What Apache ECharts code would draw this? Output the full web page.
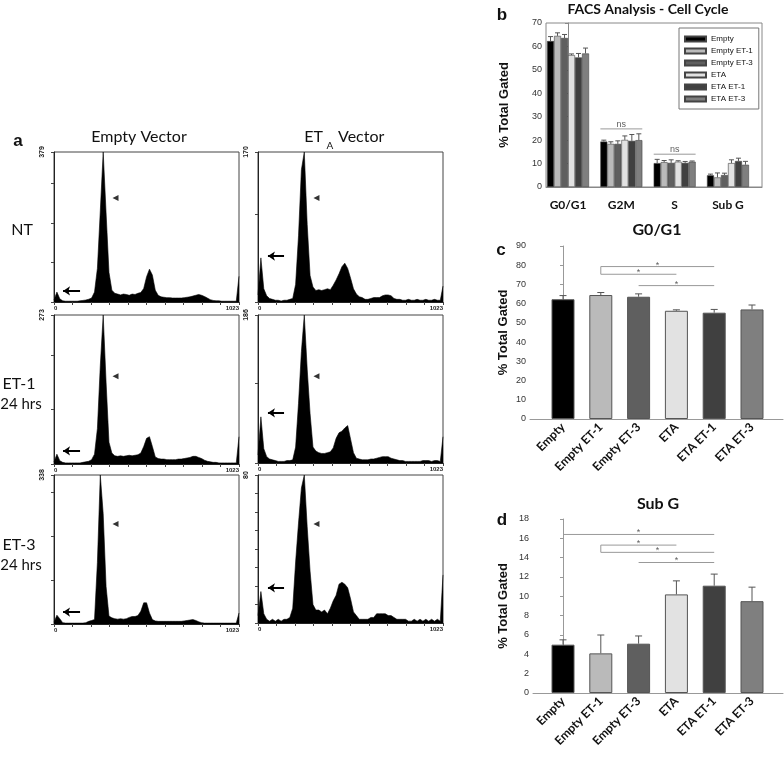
<!DOCTYPE html>
<html><head><meta charset="utf-8">
<script src="https://cdn.jsdelivr.net/npm/echarts@6/dist/echarts.min.js"></script>
<style>html,body{margin:0;padding:0;background:#fff}#c{width:784px;height:758px}</style>
</head><body><div id="c"></div>
<script>
// ---------- DATA ----------
const channels = [0,16,32,48,64,80,96,112,128,144,160,176,192,208,224,240,256,272,288,304,320,336,352,368,384,400,416,432,448,464,480,496,512,528,544,560,576,592,608,624,640,656,672,688,704,720,736,752,768,784,800,816,832,848,864,880,896,912,928,944,960,976,992,1008,1023];
const histEmptyNT  = [5,25,8,3,2,2,2,2,2,3, 4,5,7,10,25,85,230,379,225,75, 30,22,20,18,20,19,17,20,19,22, 24,34,64,83,68,30,17,13,12,11, 11,10,10,10,10,11,12,13,15,17, 19,17,14,10,6,4,3,3,2,2, 2,2,2,2,65];
const histEtaNT    = [8,50,15,7,4,3,2,2,1,2, 2,3,4,20,75,150,170,88,30,17, 13,14,13,14,15,14,19,25,32,40, 44,38,27,15,9,6,5,3,3,4, 5,5,5,7,8,8,7,4,3,3, 2,2,3,2,2,3,2,2,3,2, 2,3,2,2,18];
const histEmptyET1 = [4,18,6,3,2,2,2,2,2,2, 3,4,5,8,18,65,180,273,150,40, 20,15,14,15,14,15,16,15,16,17, 20,32,47,50,32,13,10,9,9,8, 8,8,8,9,9,10,11,12,14,14, 12,10,7,5,4,3,3,2,2,2, 2,2,2,2,50];
const histEtaET1   = [10,58,18,8,5,4,3,2,2,2, 3,3,4,20,75,140,186,118,62,20, 15,13,12,12,13,14,19,31,38,40, 44,47,30,13,6,5,4,4,4,5, 5,6,7,8,8,8,6,5,4,3, 3,2,2,2,2,2,2,3,3,3, 2,3,3,2,33];
const histEmptyET3 = [4,20,12,3,2,2,2,2,2,2, 2,3,6,8,10,140,338,250,85,18, 14,12,11,12,11,12,15,17,17,19, 29,48,48,25,10,7,6,6,6,6, 6,6,6,6,6,7,8,9,10,8, 5,3,2,2,2,2,2,2,2,2, 2,2,2,2,25];
const histEtaET3   = [4,17,5,2,1,2,1,2,1,2, 2,3,8,33,54,73,80,52,28,10, 7,7,6,7,5,8,12,15,21,22, 21,19,13,6,4,2,2,2,2,3, 3,5,5,5,5,4,4,3,2,2, 2,2,1,1,2,1,2,1,2,1, 2,1,2,1,26];
const histMaxLabels = [379,170,273,186,338,80];
const histTickStep  = [100,100,100,100,100,10];
const arrowCounts   = [28,52,24,63,27,19];
const arrowFrom     = [50,55,50,55,50,55];
const arrowTo       = [144,144,144,144,144,144];
const markerChannel = [340,323,340,323,340,323];
const markerCount   = [263,118,161,109,227,53.5];

const groups = ['Empty','Empty ET-1','Empty ET-3','ETA','ETA ET-1','ETA ET-3'];
const phases = ['G0/G1','G2M','S','Sub G'];
const g0g1Mean  = [62.3,64.5,63.6,56.3,55.3,57.0];
const g0g1Upper = [64.2,65.8,65.1,56.8,57.0,59.3];
const g2mMean   = [19.4,18.4,18.4,20.1,19.7,20.0];
const g2mUpper  = [20.0,19.3,19.7,21.8,22.4,22.7];
const sMean     = [10.2,10.6,10.3,10.8,10.3,10.8];
const sUpper    = [11.8,11.3,11.6,11.2,10.9,11.1];
const subGMean  = [5.0,4.1,5.1,10.2,11.1,9.5];
const subGUpper = [5.5,6.0,5.9,11.6,12.3,10.95];

const nsLines  = [[[0.607,24.8],[1.393,24.8]],[[1.607,14],[2.393,14]]];
const nsLabels = [[1,24.8],[2,14]];
const sigLinesC = [[[1,79.3],[4,79.3]],[[1,79.3],[1,75.3],[3,75.3]],[[2,69.4],[4,69.4]]];
const sigStarsC = [[2.5,79.3],[2,75.3],[3,69.4]];
const sigLinesD = [[[0,16.4],[4,16.4]],[[3,15.3],[1,15.3],[1,14.55],[4,14.55]],[[2,13.5],[4,13.5]]];
const sigStarsD = [[2,16.4],[2,15.3],[2.5,14.55],[3,13.5]];

// ---------- STYLE ----------
const palette = ['#000000','#bababa','#5f5f5f','#e2e2e2','#404040','#7f7f7f'];
const FC = 'Lato, "Open Sans", sans-serif';
const FA = '"Liberation Sans", Arial, sans-serif';
const histLayout = [[54,152,185,150],[258,152,185,150],[54,315,185,149],[258,315,185,148],[54,475,185,149],[258,475,185,148]];
const hists = [histEmptyNT, histEtaNT, histEmptyET1, histEtaET1, histEmptyET3, histEtaET3];

const option = {animation:false, grid:[], xAxis:[], yAxis:[], series:[]};

hists.forEach((h,k)=>{
  const L = histLayout[k];
  option.grid.push({left:L[0], top:L[1], width:L[2], height:L[3], show:true, borderColor:'#444', borderWidth:1});
  option.xAxis.push({gridIndex:k, type:'value', min:0, max:1023, interval:102.3,
    axisLine:{lineStyle:{color:'#222'}}, axisTick:{length:3, lineStyle:{color:'#444'}},
    axisLabel:{customValues:[0,1023], formatter:v=>String(Math.round(v)), fontSize:6, fontWeight:'bold', fontFamily:FA, color:'#222', margin:3, alignMinLabel:'left', alignMaxLabel:'right'},
    splitLine:{show:false}});
  option.yAxis.push({gridIndex:k, type:'value', min:0, max:histMaxLabels[k], interval:histTickStep[k],
    axisLine:{show:true, lineStyle:{color:'#222'}}, axisTick:{show:true, length:3, lineStyle:{color:'#444'}},
    axisLabel:{customValues:[histMaxLabels[k]], formatter:v=>String(Math.round(v)), rotate:90, fontSize:7, fontWeight:'bold', fontFamily:FA, color:'#222', margin:8},
    splitLine:{show:false}});
  option.series.push({type:'line', xAxisIndex:k, yAxisIndex:k, symbol:'none', silent:true,
    data: channels.map((c,i)=>[c, h[i]]),
    lineStyle:{color:'#000', width:0.6}, areaStyle:{color:'#000', opacity:1}});
  option.series.push({type:'scatter', xAxisIndex:k, yAxisIndex:k, symbol:'triangle', symbolSize:[6,6], symbolRotate:90,
    itemStyle:{color:'#000'}, data:[[markerChannel[k], markerCount[k]]]});
  option.series.push({type:'lines', coordinateSystem:'cartesian2d', xAxisIndex:k, yAxisIndex:k,
    symbol:['arrow','none'], symbolSize:7, lineStyle:{color:'#000', width:2, opacity:1},
    data:[{coords:[[arrowFrom[k], arrowCounts[k]],[arrowTo[k], arrowCounts[k]]]}]});
});

// ---------- panel b ----------
const phaseMeans = [g0g1Mean, g2mMean, sMean, subGMean];
const phaseUppers = [g0g1Upper, g2mUpper, sUpper, subGUpper];
const B = 6, C = 7, D = 8;
option.grid.push({left:546, top:23, width:216, height:164, show:true, borderColor:'#888', borderWidth:1});
option.xAxis.push({gridIndex:B, type:'value', min:-0.413, max:3.638,
  axisLine:{lineStyle:{color:'#888'}}, axisTick:{show:false}, splitLine:{show:false},
  axisLabel:{customValues:[0,1,2,3], formatter:v=>phases[Math.round(v)], fontFamily:FC, fontWeight:'bold', fontSize:12, color:'#111', margin:12}});
option.yAxis.push({gridIndex:B, type:'value', min:0, max:70, interval:10,
  axisLine:{show:true, lineStyle:{color:'#888'}}, axisTick:{show:true, length:3, lineStyle:{color:'#888'}},
  axisLabel:{fontSize:9, color:'#333', fontFamily:FA, margin:4}, splitLine:{show:false},
  name:'% Total Gated', nameLocation:'middle', nameGap:35, nameTextStyle:{fontWeight:'bold', fontSize:13, fontFamily:FA, color:'#111'}});
groups.forEach((g,gi)=>{
  option.series.push({type:'bar', name:g, xAxisIndex:B, yAxisIndex:B, barWidth:7, barGap:'0%',
    itemStyle:{color:palette[gi], borderColor:'#444', borderWidth:0.6},
    data: phases.map((p,pi)=>[pi, phaseMeans[pi][gi]])});
});
const errB = [];
phases.forEach((p,pi)=>groups.forEach((g,gi)=>errB.push([pi, gi, phaseMeans[pi][gi], phaseUppers[pi][gi]])));
option.series.push({type:'custom', xAxisIndex:B, yAxisIndex:B, encode:{x:0, y:[2,3]}, data:errB, z:5,
  renderItem:(params, api)=>{
    const a = api.coord([api.value(0), api.value(2)]);
    const b = api.coord([api.value(0), api.value(3)]);
    const x = a[0] + (api.value(1) - 2.5) * 7;
    const st = {stroke:'#555', lineWidth:1};
    return {type:'group', children:[
      {type:'line', shape:{x1:x, y1:a[1], x2:x, y2:b[1]}, style:st},
      {type:'line', shape:{x1:x-2.5, y1:b[1], x2:x+2.5, y2:b[1]}, style:st}]};
  }});
option.series.push({type:'lines', coordinateSystem:'cartesian2d', xAxisIndex:B, yAxisIndex:B, polyline:true,
  lineStyle:{color:'#999', width:1, opacity:1}, data: nsLines.map(c=>({coords:c}))});
option.series.push({type:'scatter', xAxisIndex:B, yAxisIndex:B, symbolSize:0, data:nsLabels,
  label:{show:true, formatter:'ns', position:'top', distance:0, fontSize:9, fontFamily:FA, color:'#333'}});
option.legend = {show:true, data:groups, orient:'vertical', left:679, top:28, itemWidth:21, itemHeight:5, itemGap:2,
  padding:[6,6,5,5], borderColor:'#777', borderWidth:1, selectedMode:false, icon:'rect',
  textStyle:{fontSize:8, fontFamily:FA, color:'#111', lineHeight:10, padding:[0,0,0,0]}};

// ---------- panels c and d ----------
function singlePanel(idx, gridCfg, xmin, ymax, yint, means, uppers, lines, stars, nameGap){
  option.grid.push(gridCfg);
  option.xAxis.push({gridIndex:idx, type:'value', min:xmin, max:5.82,
    axisLine:{lineStyle:{color:'#999'}}, axisTick:{show:false}, splitLine:{show:false},
    axisLabel:{customValues:[0,1,2,3,4,5], formatter:v=>groups[Math.round(v)], rotate:45, fontFamily:FC, fontWeight:'bold', fontSize:12, color:'#111', margin:6}});
  option.yAxis.push({gridIndex:idx, type:'value', min:0, max:ymax, interval:yint,
    axisLine:{show:true, lineStyle:{color:'#999'}}, axisTick:{show:true, length:3, lineStyle:{color:'#999'}},
    axisLabel:{fontSize:9, color:'#333', fontFamily:FA, margin:4}, splitLine:{show:false},
    name:'% Total Gated', nameLocation:'middle', nameGap:nameGap, nameTextStyle:{fontWeight:'bold', fontSize:13, fontFamily:FA, color:'#111'}});
  option.series.push({type:'bar', xAxisIndex:idx, yAxisIndex:idx, barWidth:23,
    data: means.map((v,i)=>({value:[i,v], itemStyle:{color:palette[i], borderColor:'#555', borderWidth:1}}))});
  option.series.push({type:'custom', xAxisIndex:idx, yAxisIndex:idx, encode:{x:0, y:[1,2]}, z:5,
    data: means.map((v,i)=>[i, v, uppers[i]]),
    renderItem:(params, api)=>{
      const a = api.coord([api.value(0), api.value(1)]);
      const b = api.coord([api.value(0), api.value(2)]);
      const st = {stroke:'#555', lineWidth:1};
      return {type:'group', children:[
        {type:'line', shape:{x1:a[0], y1:a[1], x2:a[0], y2:b[1]}, style:st},
        {type:'line', shape:{x1:a[0]-3.5, y1:b[1], x2:a[0]+3.5, y2:b[1]}, style:st}]};
    }});
  option.series.push({type:'lines', coordinateSystem:'cartesian2d', xAxisIndex:idx, yAxisIndex:idx, polyline:true,
    lineStyle:{color:'#999', width:1, opacity:1}, data: lines.map(c=>({coords:c}))});
  option.series.push({type:'scatter', xAxisIndex:idx, yAxisIndex:idx, symbolSize:0, data:stars,
    label:{show:true, formatter:'*', position:'top', distance:-3, fontSize:9, fontFamily:FA, color:'#333'}});
}
singlePanel(C, {left:530, top:246, width:253, height:173}, -0.873, 90, 10, g0g1Mean, g0g1Upper, sigLinesC, sigStarsC, 20);
singlePanel(D, {left:533, top:519, width:250, height:174}, -0.794, 18, 2, subGMean, subGUpper, sigLinesD, sigStarsD, 23);

// ---------- static text ----------
function txt(x, y, text, font, align){
  return {type:'text', x:x, y:y, silent:true, style:{text:text, font:font, fill:'#111', align:align||'center', verticalAlign:'middle'}};
}
option.graphic = [
  txt(18, 141, 'a', 'bold 17px '+FA),
  txt(139, 137, 'Empty Vector', '16px '+FC),
  txt(323, 137, 'ET', '16px '+FC, 'right'),
  txt(330, 146, 'A', '10px '+FC),
  txt(338, 137, 'Vector', '16px '+FC, 'left'),
  txt(22, 230, 'NT', '16px '+FC),
  txt(19, 384, 'ET-1', '16px '+FC),
  txt(21, 404, '24 hrs', '15px '+FC),
  txt(19, 545, 'ET-3', '16px '+FC),
  txt(21, 565, '24 hrs', '15px '+FC),
  txt(502, 15, 'b', 'bold 17px '+FA),
  txt(648, 9, 'FACS Analysis - Cell Cycle', 'bold 14px '+FC),
  txt(501, 250, 'c', 'bold 17px '+FA),
  txt(657, 230, 'G0/G1', 'bold 16px '+FC),
  txt(502, 520, 'd', 'bold 17px '+FA),
  txt(658, 504, 'Sub G', 'bold 16px '+FC)
];

const chart = echarts.init(document.getElementById('c'), null, {renderer:'canvas'});
chart.setOption(option);
</script></body></html>
